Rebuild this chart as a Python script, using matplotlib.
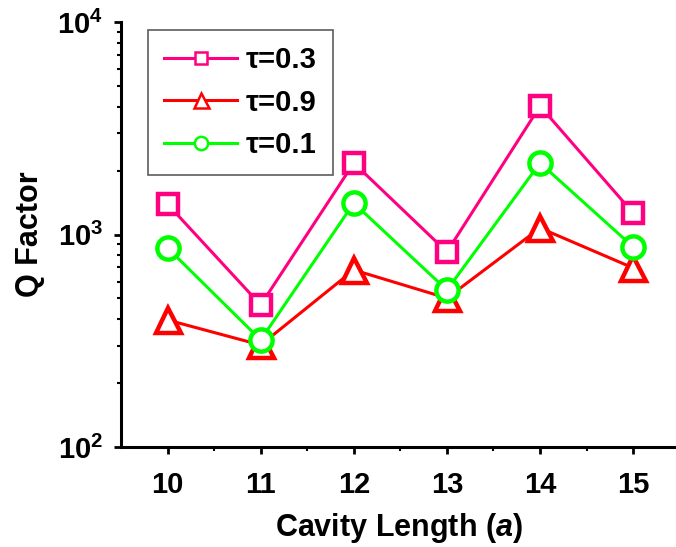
import matplotlib
matplotlib.use("Agg")
import matplotlib.pyplot as plt
from matplotlib.ticker import LogLocator, FixedLocator, NullFormatter

plt.rcParams['font.family'] = ['Liberation Sans', 'DejaVu Sans']
plt.rcParams['font.weight'] = 'bold'
plt.rcParams['mathtext.fontset'] = 'custom'
plt.rcParams['mathtext.rm'] = 'Liberation Sans:bold'
plt.rcParams['mathtext.bf'] = 'Liberation Sans:bold'
plt.rcParams['mathtext.it'] = 'Liberation Sans:bold:italic'
plt.rcParams['mathtext.default'] = 'bf'

# cavity length in lattice constants
cavity = [10, 11, 12, 13, 14, 15]

q_tau03 = [1390, 466, 2170, 828, 4020, 1262]
q_tau09 = [396, 302, 681, 502, 1073, 696]
q_tau01 = [864, 319, 1406, 548, 2170, 874]

labels = ["τ=0.3", "τ=0.9", "τ=0.1"]
colors = ["#FF0080", "#FF0000", "#00FF00"]
markers = ["s", "^", "o"]
sizes = [15, 18, 16]

fig = plt.figure(figsize=(6.76, 5.47), dpi=100)
ax = fig.add_axes([121/676, 1 - 447/547, 1 - 121/676, 425/547])

for q, lab, c, m, ms in zip([q_tau03, q_tau09, q_tau01], labels, colors, markers, sizes):
    ax.plot(cavity, q, color=c, lw=2.2, marker=m, ms=ms, mfc="white",
            mec=c, mew=3.2, label=lab)

ax.set_yscale("log")
ax.set_ylim(100, 10000)
ax.set_xlim(9.5, 15.46)

ax.yaxis.set_minor_locator(LogLocator(base=10, subs=range(2, 10), numticks=20))
ax.yaxis.set_minor_formatter(NullFormatter())
ax.set_yticks([100, 1000, 10000])
ax.set_yticklabels([r"$\mathregular{10^2}$", r"$\mathregular{10^3}$", r"$\mathregular{10^4}$"])
ax.set_xticks(cavity)
ax.xaxis.set_minor_locator(FixedLocator([10.5, 11.5, 12.5, 13.5, 14.5]))

for side in ["top", "right"]:
    ax.spines[side].set_visible(False)
for side in ["left", "bottom"]:
    ax.spines[side].set_linewidth(2.2)

ax.tick_params(axis="both", which="major", length=5, width=2, labelsize=21, pad=8)
ax.tick_params(axis="both", which="minor", length=3, width=1.5)
ax.tick_params(axis="x", pad=12)

ax.set_xlabel(r"Cavity Length ($\mathit{a}$)", fontsize=22, fontweight="bold", labelpad=9)
ax.set_ylabel("Q Factor", fontsize=22, fontweight="bold", labelpad=9)

leg = ax.legend(loc="upper left", bbox_to_anchor=(27/555, 1 - 8/425), fontsize=21,
                markerscale=0.6, handlelength=2.5, handletextpad=0.3,
                labelspacing=0.5, borderpad=0.55, borderaxespad=0,
                frameon=True, fancybox=False)
leg.get_frame().set_edgecolor("#333333")
leg.get_frame().set_linewidth(1.2)
for t in leg.get_texts():
    t.set_fontweight("bold")
for h in leg.legend_handles:
    h.set_markeredgewidth(1.8)

fig.savefig("out.png", dpi=100)
